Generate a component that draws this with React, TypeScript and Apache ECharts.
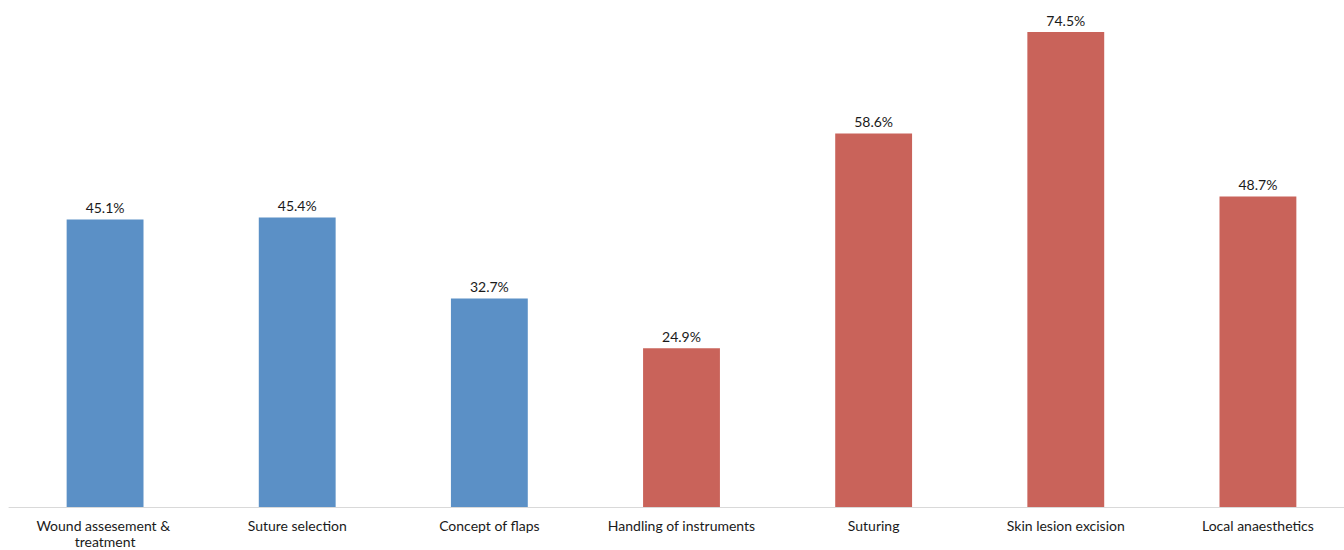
import React, { useEffect, useRef } from "react";
import * as echarts from "echarts";

const categories = [
  "Wound assesement & treatment",
  "Suture selection",
  "Concept of flaps",
  "Handling of instruments",
  "Suturing",
  "Skin lesion excision",
  "Local anaesthetics",
];
const values = [45.1, 45.4, 32.7, 24.9, 58.6, 74.5, 48.7];
const barColors = ["#5b90c6", "#5b90c6", "#5b90c6", "#c9635a", "#c9635a", "#c9635a", "#c9635a"];

export default function App() {
  const ref = useRef<HTMLDivElement>(null);
  useEffect(() => {
    document.body.style.margin = "0";
    const chart = echarts.init(ref.current!, null, { renderer: "svg" });
    chart.setOption({
      animation: false,
      backgroundColor: "#ffffff",
      textStyle: { fontFamily: "Lato" },
      grid: { left: 9, top: -3, right: -10, bottom: 43, containLabel: false, outerBoundsMode: "none" },
      xAxis: {
        type: "category",
        data: categories,
        axisLine: { show: true, lineStyle: { color: "#d9d9d9", width: 1 } },
        axisTick: { show: false },
        axisLabel: {
          color: "#1a1a1a",
          fontSize: 14,
          fontFamily: "Lato",
          margin: 10,
          lineHeight: 16,
          width: 160,
          overflow: "break",
          interval: 0,
        },
      },
      yAxis: {
        type: "value",
        min: 0,
        max: 80,
        show: false,
        splitLine: { show: false },
      },
      series: [
        {
          type: "bar",
          barWidth: "40%",
          data: values.map((v, i) => ({ value: v, itemStyle: { color: barColors[i] } })),
          label: {
            show: true,
            position: "top",
            distance: 5,
            color: "#1a1a1a",
            fontSize: 14,
            fontFamily: "Lato",
            formatter: (p: any) => p.value.toFixed(1) + "%",
          },
        },
      ],
    });
    return () => chart.dispose();
  }, []);
  return <div ref={ref} style={{ width: 1344, height: 550 }} />;
}
